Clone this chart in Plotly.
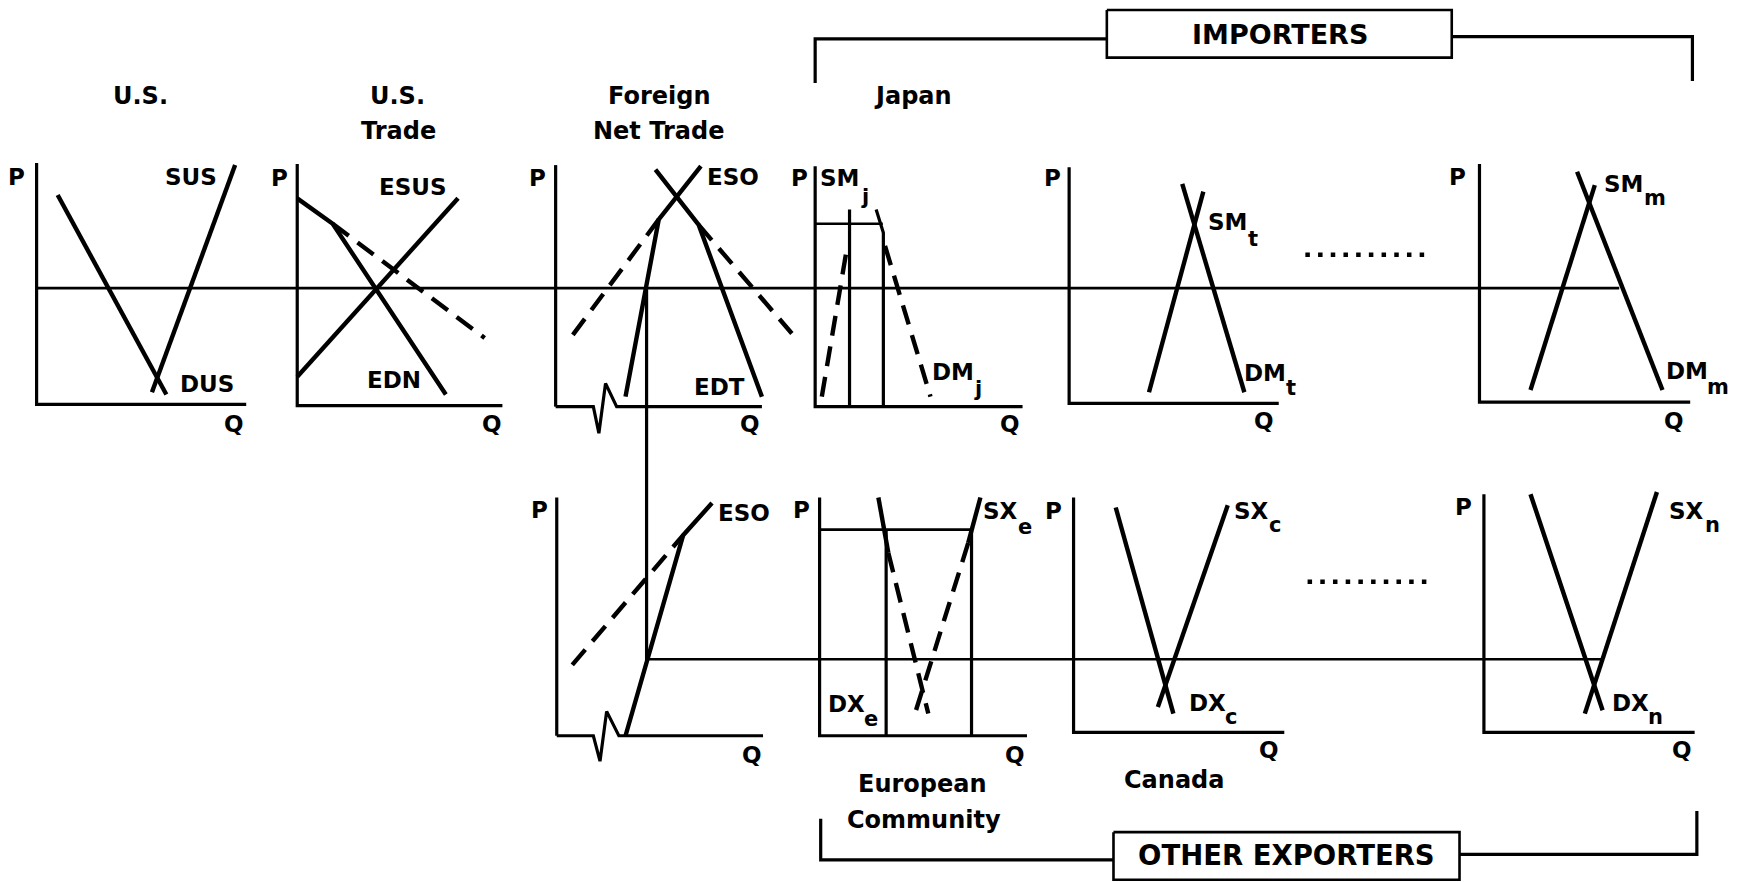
import plotly.graph_objects as go

# ---------------- data (diagram units; P grows downward on screen via reversed axis) -------------
# U.S.
US_AXIS_Q = [33, 33, 222];          US_AXIS_P = [147, 365, 365]
SUS_Q = [137, 212];                 SUS_P = [354, 149]
DUS_Q = [52, 150];                  DUS_P = [176, 356]
# U.S. trade
UST_AXIS_Q = [268, 268, 453];       UST_AXIS_P = [148, 366, 366]
ESUS_Q = [268, 413];                ESUS_P = [340, 179]
EDN_Q = [268, 300, 402];            EDN_P = [179, 202, 356]
EDN_DASH_Q = [300, 437];            EDN_DASH_P = [202, 305]
# Foreign net trade (top)
FT_PAXIS_Q = [501, 501];            FT_PAXIS_P = [149, 367]
FT_QAXIS_Q = [501, 535, 540, 546, 556, 687]
FT_QAXIS_P = [367, 367, 391, 346, 367, 367]
ESO_T_Q = [564, 594, 632];          ESO_T_P = [358, 198, 150]
EDT_Q = [591, 630, 687];            EDT_P = [153, 203, 358]
ESO_T_DASH_Q = [594, 513];          ESO_T_DASH_P = [198, 307]
EDT_DASH_Q = [630, 714];            EDT_DASH_P = [203, 301]
LINK_Q = [583, 583];                LINK_P = [261, 596]
# Japan
JP_AXIS_Q = [735, 735, 922];        JP_AXIS_P = [150, 367, 367]
JP_PRICE_Q = [735, 796];            JP_PRICE_P = [202, 202]
SMJ_Q = [766, 766];                 SMJ_P = [189, 367]
SMJ_DASH_Q = [741, 764];            SMJ_DASH_P = [358, 222]
DMJ_Q = [790, 796.5, 796.5];        DMJ_P = [189, 210, 367]
DMJ_DASH_Q = [798, 839];            DMJ_DASH_P = [222, 358]
# importer t
T_AXIS_Q = [964, 964, 1153];        T_AXIS_P = [151, 364, 364]
SMT_Q = [1036, 1085];               SMT_P = [354, 173]
DMT_Q = [1066, 1122];               DMT_P = [166, 354]
# importer m
M_AXIS_Q = [1334, 1334, 1524];      M_AXIS_P = [148, 363, 363]
SMM_Q = [1380, 1438];               SMM_P = [352, 167]
DMM_Q = [1422, 1499];               DMM_P = [155, 352]
# world price lines
PRICE_TOP_Q = [33, 1460];           PRICE_TOP_P = [260, 260]
PRICE_BOT_Q = [584, 1444];          PRICE_BOT_P = [595, 595]
# Foreign (bottom)
FB_PAXIS_Q = [502, 502];            FB_PAXIS_P = [449, 664]
FB_QAXIS_Q = [502, 535, 541, 547, 558, 688]
FB_QAXIS_P = [664, 664, 687, 642, 664, 664]
ESO_B_Q = [564, 616, 642];          ESO_B_P = [664, 483, 454]
ESO_B_DASH_Q = [516, 616];          ESO_B_DASH_P = [600, 483]
# European Community
EC_AXIS_Q = [739, 739, 926];        EC_AXIS_P = [449, 664, 664]
EC_PRICE_Q = [740, 876];            EC_PRICE_P = [478, 478]
EC_VL_Q = [799, 799];               EC_VL_P = [478, 664]
EC_VR_Q = [876, 876];               EC_VR_P = [478, 664]
DXE_Q = [792, 801];                 DXE_P = [449, 499]
DXE_DASH_Q = [801, 837];            DXE_DASH_P = [499, 644]
SXE_Q = [884, 873];                 SXE_P = [449, 490]
SXE_DASH_Q = [873, 825];            SXE_DASH_P = [490, 644]
# Canada
C_AXIS_Q = [968, 968, 1158];        C_AXIS_P = [449, 661, 661]
SXC_Q = [1044, 1107];               SXC_P = [638, 456]
DXC_Q = [1006, 1058];               DXC_P = [458, 644]
# exporter n
N_AXIS_Q = [1338, 1338, 1528];      N_AXIS_P = [446, 661, 661]
SXN_Q = [1429, 1494];               SXN_P = [644, 444]
DXN_Q = [1380, 1445];               DXN_P = [446, 641]
# ellipsis rows
DOTS_TOP_Q = [1177, 1291];          DOTS_TOP_P = [230, 230]
DOTS_BOT_Q = [1179, 1293];          DOTS_BOT_P = [525, 525]
# brackets and boxes
IMP_LEFT_Q = [735, 735, 998];       IMP_LEFT_P = [75, 35, 35]
IMP_RIGHT_Q = [1309, 1526, 1526];   IMP_RIGHT_P = [33, 33, 73]
IMP_BOX_Q = [998, 1309, 1309, 998, 998];  IMP_BOX_P = [9, 9, 52, 52, 9]
EXP_LEFT_Q = [740, 740, 1004];      EXP_LEFT_P = [739, 776, 776]
EXP_RIGHT_Q = [1316, 1530, 1530];   EXP_RIGHT_P = [771, 771, 732]
EXP_BOX_Q = [1004, 1316, 1316, 1004, 1004]; EXP_BOX_P = [751, 751, 794, 794, 751]

TITLE_LINES = ["U.S.", "U.S.", "Trade", "Foreign", "Net Trade", "Japan",
               "European", "Community", "Canada"]
GROUPS = ["IMPORTERS", "OTHER EXPORTERS"]

# ---------------- styles -------------
CURVE = dict(color="black", width=4.4)
AXIS = dict(color="black", width=3.2)
THIN = dict(color="black", width=2.6)
DASH = dict(color="black", width=4.4, dash="20px,11px")
DOT = dict(color="black", width=4.5, dash="4.5px,8.2px")

segments = [
    (US_AXIS_Q, US_AXIS_P, AXIS), (SUS_Q, SUS_P, CURVE), (DUS_Q, DUS_P, CURVE),
    (UST_AXIS_Q, UST_AXIS_P, AXIS), (ESUS_Q, ESUS_P, CURVE), (EDN_Q, EDN_P, CURVE),
    (EDN_DASH_Q, EDN_DASH_P, DASH),
    (FT_PAXIS_Q, FT_PAXIS_P, AXIS), (FT_QAXIS_Q, FT_QAXIS_P, AXIS),
    (ESO_T_Q, ESO_T_P, CURVE), (EDT_Q, EDT_P, CURVE),
    (ESO_T_DASH_Q, ESO_T_DASH_P, DASH), (EDT_DASH_Q, EDT_DASH_P, DASH),
    (LINK_Q, LINK_P, AXIS),
    (JP_AXIS_Q, JP_AXIS_P, AXIS), (JP_PRICE_Q, JP_PRICE_P, THIN),
    (SMJ_Q, SMJ_P, AXIS), (SMJ_DASH_Q, SMJ_DASH_P, DASH),
    (DMJ_Q, DMJ_P, AXIS), (DMJ_DASH_Q, DMJ_DASH_P, DASH),
    (T_AXIS_Q, T_AXIS_P, AXIS), (SMT_Q, SMT_P, CURVE), (DMT_Q, DMT_P, CURVE),
    (M_AXIS_Q, M_AXIS_P, AXIS), (SMM_Q, SMM_P, CURVE), (DMM_Q, DMM_P, CURVE),
    (PRICE_TOP_Q, PRICE_TOP_P, THIN), (PRICE_BOT_Q, PRICE_BOT_P, THIN),
    (FB_PAXIS_Q, FB_PAXIS_P, AXIS), (FB_QAXIS_Q, FB_QAXIS_P, AXIS),
    (ESO_B_Q, ESO_B_P, CURVE), (ESO_B_DASH_Q, ESO_B_DASH_P, DASH),
    (EC_AXIS_Q, EC_AXIS_P, AXIS), (EC_PRICE_Q, EC_PRICE_P, THIN),
    (EC_VL_Q, EC_VL_P, AXIS), (EC_VR_Q, EC_VR_P, AXIS),
    (DXE_Q, DXE_P, CURVE), (DXE_DASH_Q, DXE_DASH_P, DASH),
    (SXE_Q, SXE_P, CURVE), (SXE_DASH_Q, SXE_DASH_P, DASH),
    (C_AXIS_Q, C_AXIS_P, AXIS), (SXC_Q, SXC_P, CURVE), (DXC_Q, DXC_P, CURVE),
    (N_AXIS_Q, N_AXIS_P, AXIS), (SXN_Q, SXN_P, CURVE), (DXN_Q, DXN_P, CURVE),
    (DOTS_TOP_Q, DOTS_TOP_P, DOT), (DOTS_BOT_Q, DOTS_BOT_P, DOT),
    (IMP_LEFT_Q, IMP_LEFT_P, AXIS), (IMP_RIGHT_Q, IMP_RIGHT_P, AXIS),
    (IMP_BOX_Q, IMP_BOX_P, THIN),
    (EXP_LEFT_Q, EXP_LEFT_P, AXIS), (EXP_RIGHT_Q, EXP_RIGHT_P, AXIS),
    (EXP_BOX_Q, EXP_BOX_P, THIN),
]

fig = go.Figure()
for qs, ps, style in segments:
    fig.add_trace(go.Scatter(x=qs, y=ps, mode="lines", line=style,
                             showlegend=False, hoverinfo="skip"))

FONT = "DejaVu Sans"


def txt(s, x, y, size=23, xanchor="center"):
    fig.add_annotation(x=x, y=y, xref="x", yref="y", text=s, showarrow=False,
                       xanchor=xanchor, yanchor="middle", borderpad=0,
                       font=dict(family=FONT, size=size, color="black", weight="bold"))


# titles (one annotation per printed line)
txt(TITLE_LINES[0], 127, 87, 24)
txt(TITLE_LINES[1], 358, 87, 24)
txt(TITLE_LINES[2], 359, 118, 24)
txt(TITLE_LINES[3], 595, 87, 24)
txt(TITLE_LINES[4], 594, 118, 24)
txt(TITLE_LINES[5], 823, 87, 24)
txt(TITLE_LINES[6], 832, 708, 24)
txt(TITLE_LINES[7], 833, 740, 24)
txt(TITLE_LINES[8], 1059, 704, 24)
txt(GROUPS[0], 1154, 31, 27)
txt(GROUPS[1], 1160, 772, 27.5)

# P / Q axis letters
for x, y in [(15, 160), (252, 161), (485, 161), (721, 161), (949, 161), (1314, 160),
             (486, 460), (723, 460), (950, 461), (1320, 458)]:
    txt("P", x, y)
for x, y in [(211, 383), (444, 383), (676, 383), (911, 383), (1140, 380), (1509, 380),
             (678, 681), (915, 681), (1144, 677), (1517, 677)]:
    txt("Q", x, y)

# curve labels (base text, then subscript placed just right of it and lower)
txt("SUS", 172, 160)
txt("DUS", 187, 347)
txt("ESUS", 372, 169)
txt("EDN", 355, 343)
txt("ESO", 661, 160)
txt("EDT", 649, 349)
txt("ESO", 671, 463)
txt("SM", 757, 161); txt("j", 775, 178, 21, "left")
txt("DM", 859, 336); txt("j", 877, 351, 21, "left")
txt("SM", 1107, 200); txt("t", 1124, 216, 21, "left")
txt("DM", 1141, 337); txt("t", 1159, 350, 21, "left")
txt("SM", 1464, 166); txt("m", 1481, 179, 21, "left")
txt("DM", 1521, 335); txt("m", 1538, 349, 21, "left")
txt("SX", 902, 461); txt("e", 917, 476, 21, "left")
txt("DX", 763, 635); txt("e", 778, 649, 21, "left")
txt("SX", 1128, 461); txt("c", 1143, 474, 21, "left")
txt("DX", 1089, 634); txt("c", 1104, 647, 21, "left")
txt("SX", 1521, 461); txt("n", 1536, 474, 21, "left")
txt("DX", 1470, 634); txt("n", 1485, 647, 21, "left")

# the page body adds an 8px margin; shift the visible window so marks land in place
W_PX, H_PX = 1739, 882
X_SPAN, Y_SPAN = 1568, 796
PAGE_MARGIN = 8
x0 = PAGE_MARGIN * X_SPAN / W_PX
y0 = PAGE_MARGIN * Y_SPAN / H_PX

fig.update_layout(
    width=W_PX, height=H_PX,
    margin=dict(l=0, r=0, t=0, b=0),
    paper_bgcolor="white", plot_bgcolor="white",
    xaxis=dict(range=[x0, x0 + X_SPAN], visible=False, fixedrange=True),
    yaxis=dict(range=[y0 + Y_SPAN, y0], visible=False, fixedrange=True),
)

fig.write_html("out.html")
